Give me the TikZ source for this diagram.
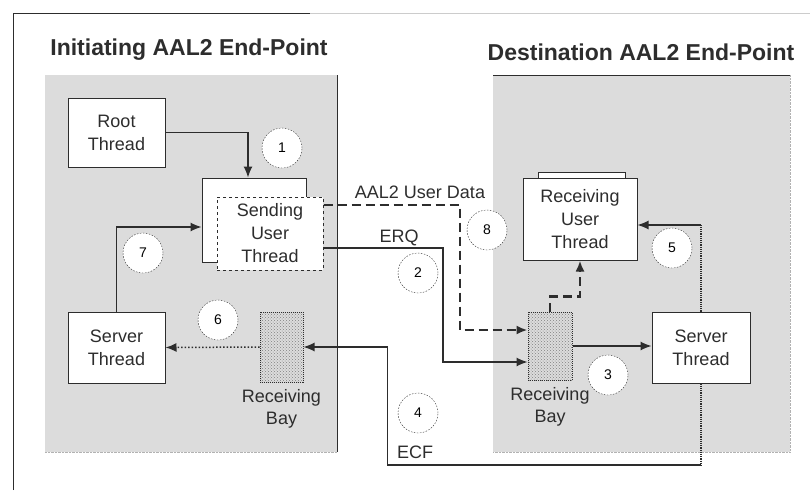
\documentclass[tikz,border=0pt]{standalone}
\usepackage{fontspec}
\setmainfont{Liberation Sans}
\usepackage{tikz}
\usetikzlibrary{arrows.meta,positioning,patterns}
\definecolor{zonegray}{RGB}{220,220,220}
\definecolor{inkcolor}{RGB}{45,45,45}
\tikzset{
  threadbox/.style={draw=inkcolor,fill=white,line width=1pt,align=center,
    inner sep=0pt,font=\fontsize{18}{23}\selectfont,text=inkcolor},
  baybox/.style={draw=inkcolor,densely dotted,line width=1pt,
    pattern=crosshatch dots,pattern color=gray,inner sep=0pt},
  stepcirc/.style={circle,draw=inkcolor,dash pattern=on 1.5pt off 1.5pt,
    fill=white,minimum size=40pt,inner sep=0pt,font=\fontsize{14}{14}\selectfont},
  flowarrow/.style={-{Latex[length=11pt,width=9pt]},line width=1.2pt,draw=inkcolor},
  dataarrow/.style={-{Latex[length=11pt,width=9pt]},line width=2.5pt,draw=inkcolor,
    dash pattern=on 9pt off 5pt},
  msglabel/.style={font=\fontsize{18}{22}\selectfont,text=inkcolor,inner sep=1pt},
  titletext/.style={font=\fontsize{23}{26}\selectfont\bfseries,text=inkcolor},
}

\begin{document}
\begin{tikzpicture}[x=1pt,y=-1pt]
    \useasboundingbox (0,0) rectangle (810,490);
    % outer frame
    \draw[inkcolor,line width=1pt] (13,490) -- (13,13) -- (310,13);
    \draw[gray!40,line width=0.8pt] (310,13) -- (810,13);
    % end-point zones
    \fill[zonegray] (45,75) rectangle (337,452);
    \fill[zonegray] (493,75) rectangle (790,452);
    \draw[inkcolor,line width=1pt] (337,75) -- (337,452);
    \draw[gray!60,densely dotted] (45,452) -- (337,452);
    \draw[inkcolor,line width=1pt] (493,75) -- (790,75);
    \draw[gray!60,densely dotted] (790,75) -- (790,452) -- (493,452);
    \node[titletext] (tInit) at (189,50) {Initiating AAL2 End-Point};
    \node[titletext] (tDest) at (641,52) {Destination AAL2 End-Point};

    % initiating side
    \node[threadbox,minimum width=97,minimum height=69] (root) at (116.5,132.5) {Root\\Thread};
    \node[threadbox,minimum width=104,minimum height=84] (sendback) at (254,220) {};
    \node[threadbox,dashed,minimum width=106,minimum height=73] (send) at (270,233.5) {Sending\\User\\Thread};
    \node[threadbox,minimum width=97,minimum height=71] (srvL) at (116.5,347.5) {Server\\Thread};
    \node[baybox,minimum width=43,minimum height=70] (bayL) at (281.5,347) {};
    \node[msglabel,align=center,below=6pt of bayL] (bayLtxt) {Receiving\\Bay};

    % destination side
    \node[threadbox,minimum width=87,minimum height=78] (recvback) at (581.5,211) {};
    \node[threadbox,minimum width=114,minimum height=82] (recv) at (580,219) {Receiving\\User\\Thread};
    \node[baybox,minimum width=44,minimum height=68] (bayR) at (550,346) {};
    \node[msglabel,align=center,below=6pt of bayR] (bayRtxt) {Receiving\\Bay};
    \node[threadbox,minimum width=98,minimum height=71] (srvR) at (701,347.5) {Server\\Thread};

    % connectors
    \draw[flowarrow] (root.east) -| ([xshift=-6pt]sendback.north);
    \draw[flowarrow] (srvL.north) |- ([yshift=-7pt]sendback.west);
    \draw[flowarrow,line width=1.5pt,dotted] (bayL.west) -- (srvL.east);
    \draw[dataarrow] (send.east |- 0,205) -| (460,330) -- (bayR.west |- 0,330);
    \draw[flowarrow] (send.east |- 0,248) -| (443,362) -- (bayR.west |- 0,362);
    \draw[dataarrow] (bayR.north) -- ++(0,-15) -| (recv.south);
    \draw[flowarrow] (bayR.east) -- (srvR.west |- bayR.east);
    \coordinate (b5) at (srvR.north |- 0,225);
    \draw[line width=1.2pt,inkcolor,densely dotted] (srvR.north) -- (b5);
    \draw[flowarrow] (b5) -- (recv.east |- b5);
    \coordinate (b4) at (srvR.south |- 0,465);
    \draw[line width=1.2pt,inkcolor,densely dotted] (srvR.south) -- (b4);
    \draw[flowarrow] (b4) -| ([xshift=84pt]bayL.east) -- (bayL.east);

    % message labels
    \node[msglabel] (lData) at (420,192) {AAL2 User Data};
    \node[msglabel] (lErq) at (399,238) {ERQ};
    \node[msglabel] (lEcf) at (415,452) {ECF};

    % step numbers
    \node[stepcirc] (c1) at (282,148) {1};
    \node[stepcirc] (c2) at (418,273) {2};
    \node[stepcirc] (c3) at (608,375) {3};
    \node[stepcirc] (c4) at (418,413) {4};
    \node[stepcirc] (c5) at (672,248) {5};
    \node[stepcirc] (c6) at (218,320) {6};
    \node[stepcirc] (c7) at (143,253) {7};
    \node[stepcirc] (c8) at (487,230) {8};
\end{tikzpicture}
\end{document}
